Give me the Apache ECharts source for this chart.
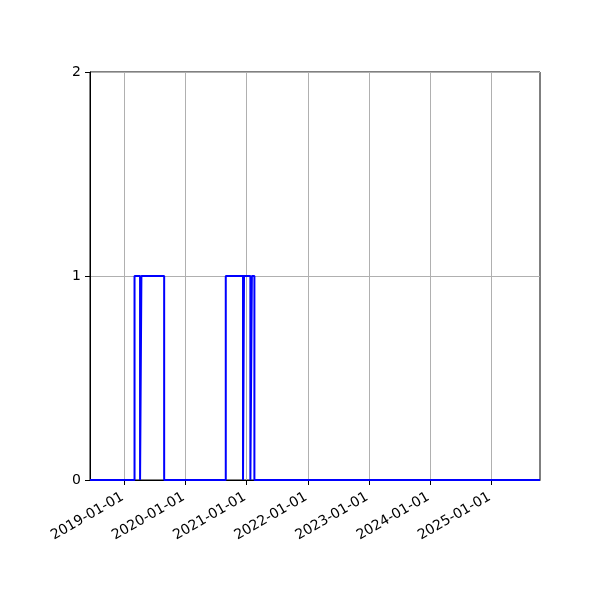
<!DOCTYPE html>
<html>
<head>
<meta charset="utf-8">
<script src="https://cdn.jsdelivr.net/npm/echarts@6/dist/echarts.min.js"></script>
<style>
  html, body { margin: 0; padding: 0; background: #fff; }
  #chart-div { width: 600px; height: 600px; }
</style>
</head>
<body>
<div id="chart-div"></div>
<script>
// tilan muutospäivät ja tilat (arvo pysyy voimassa seuraavaan muutokseen asti)
const changeDates = ['2018-06-10', '2019-03-03', '2019-04-05', '2019-04-13', '2019-08-27',
    '2020-08-29', '2020-12-10', '2020-12-16', '2021-01-23', '2021-02-01', '2021-02-16', '2025-10-19']
const stateValues = [0, 1, 0, 1, 0, 1, 0, 1, 0, 1, 0, 0]

// x-akselin jakoviivat
const tickDates = ['2019-01-01', '2020-01-01', '2021-01-01', '2022-01-01',
    '2023-01-01', '2024-01-01', '2025-01-01']
const yTicks = [0, 1, 2]

const toTime = s => +echarts.number.parseDate(s)
const tickTimes = tickDates.map(toTime)
const points = changeDates.map((d, i) => [toTime(d), stateValues[i]])

let myChart = echarts.init(document.getElementById('chart-div'))

const option = {
    animation: false,
    grid: {
        left: 90, right: 60, top: 72, bottom: 120,
        show: true, borderColor: '#000', borderWidth: 1
    },
    xAxis: {
        type: 'value',
        min: toTime(changeDates[0]),
        max: toTime(changeDates[changeDates.length - 1]),
        axisLine: { show: true, onZero: false, lineStyle: { color: '#000', width: 1 } },
        axisTick: { show: true, length: 5, lineStyle: { color: '#000' }, customValues: tickTimes },
        axisLabel: {
            customValues: tickTimes,
            rotate: 30,
            margin: 15,
            padding: [0, 2, 0, 0],
            color: '#000',
            fontFamily: 'DejaVu Sans',
            fontSize: 14,
            formatter: v => echarts.time.format(v, '{yyyy}-{MM}-{dd}', false)
        },
        splitLine: { show: true, lineStyle: { color: '#b0b0b0', width: 1 } }
    },
    yAxis: {
        type: 'value',
        min: yTicks[0],
        max: yTicks[yTicks.length - 1],
        interval: 1,
        axisLine: { show: true, lineStyle: { color: '#000', width: 1 } },
        axisTick: { show: true, length: 5, lineStyle: { color: '#000' } },
        axisLabel: { color: '#000', fontFamily: 'DejaVu Sans', fontSize: 14, margin: 9 },
        splitLine: { show: true, lineStyle: { color: '#b0b0b0', width: 1 } }
    },
    series: [{
        type: 'line',
        step: 'end',
        data: points,
        showSymbol: false,
        lineStyle: { color: '#0000ff', width: 2 },
        z: 10
    }]
}

myChart.setOption(option)
</script>
</body>
</html>
